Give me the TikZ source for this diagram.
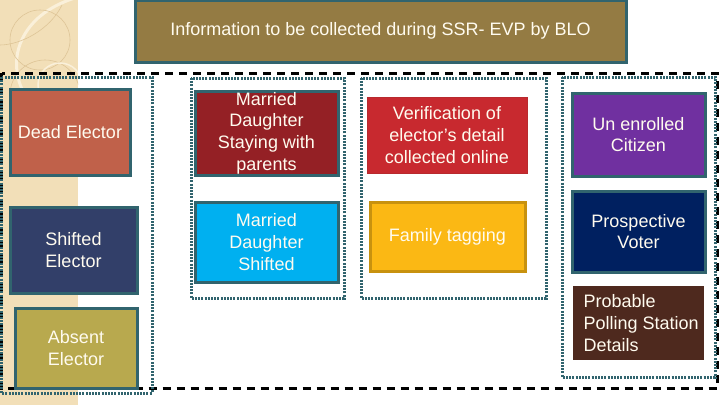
\documentclass[tikz,border=0pt]{standalone}
\usepackage{fontspec}
\setmainfont{Liberation Sans}
\definecolor{teal}{HTML}{31646E}
\definecolor{beige}{HTML}{F2DFB8}
\definecolor{beigeL}{HTML}{FAF0DA}
\definecolor{beigeD}{HTML}{DEC597}
\definecolor{titlefill}{HTML}{947B43}
\definecolor{cDead}{HTML}{C0614A}
\definecolor{cStay}{HTML}{942025}
\definecolor{cVer}{HTML}{C8292F}
\definecolor{cVerB}{HTML}{B82A2E}
\definecolor{cUn}{HTML}{7030A0}
\definecolor{cShift}{HTML}{323F69}
\definecolor{cMDS}{HTML}{00B0F0}
\definecolor{cFam}{HTML}{FBB814}
\definecolor{cFamB}{HTML}{C8920F}
\definecolor{cPros}{HTML}{002060}
\definecolor{cAbs}{HTML}{B8A94E}
\definecolor{cProb}{HTML}{4E291E}
\definecolor{txt}{HTML}{FFFBEF}
\tikzset{
  box/.style={draw=teal, line width=3pt, inner sep=0pt, align=center,
    text=txt, font=\fontsize{18}{21.6}\selectfont},
  grp/.style={draw=teal, line width=3pt, dash pattern=on 2pt off 1.2pt},
  outer/.style={draw=black, line width=3pt, dash pattern=on 8pt off 6pt},
}
\begin{document}
\begin{tikzpicture}[x=1pt,y=-1pt]
\useasboundingbox (0,0) rectangle (720,405);
\fill[white] (0,0) rectangle (720,405);
% beige decorative strip
\begin{scope}
\clip (0,0) rectangle (78,405);
\fill[beige] (0,0) rectangle (78,405);
\draw[beigeL, line width=3pt] (75,-2) .. controls (20,15) and (5,60) .. (25,95);
\draw[beigeD, line width=0.6pt] (0,45) .. controls (20,45) and (50,30) .. (62,5);
\draw[beigeD, line width=0.6pt] (40,40) circle (30);
\draw[beigeD, line width=0.6pt] (45,95) circle (35);
\draw[beigeL, line width=1.5pt] (60,85) circle (22);
\end{scope}
% title
\node[box, fill=titlefill, minimum width=491, minimum height=62] (title) at (380.5,31)
  {Information to be collected during SSR- EVP by BLO};
% outer dashed frame
\draw[outer] (1.5,73) rectangle (717,388);
% groups
\draw[grp] (1.5,77) rectangle (152,393);
\draw[grp] (191,78) rectangle (344,298);
\draw[grp] (361,78) rectangle (546,298);
\draw[grp] (562,77) rectangle (715,377);
% boxes
\node[box, fill=cDead, minimum width=120, minimum height=86] (dead) at (70,132) {Dead Elector};
\node[box, fill=cStay, minimum width=143, minimum height=84] (stay) at (266.5,133) {Married\\Daughter\\Staying with\\parents};
\node[box, draw=cVerB, line width=1pt, fill=cVer, minimum width=160, minimum height=76] (ver) at (447,135) {Verification of\\elector's detail\\collected online};
\node[box, fill=cUn, minimum width=133, minimum height=83] (un) at (638.5,134.5) {Un enrolled\\Citizen};
\node[box, fill=cShift, minimum width=127, minimum height=86] (shift) at (73.5,250) {Shifted\\Elector};
\node[box, fill=cMDS, minimum width=143, minimum height=80] (mds) at (266.5,242) {Married\\Daughter\\Shifted};
\node[box, draw=cFamB, fill=cFam, minimum width=155, minimum height=69] (fam) at (447.5,236.5) {Family tagging};
\node[box, fill=cPros, minimum width=133, minimum height=81] (pros) at (638.5,231.5) {Prospective\\Voter};
\node[box, fill=cAbs, minimum width=122, minimum height=80] (abs) at (76,348) {Absent\\Elector};
\node[box, draw=none, fill=cProb, minimum width=131, minimum height=74] (prob) at (638.5,323) {};
\node[box, draw=none, align=left, anchor=west] (probtext) at (582,323) {Probable\\Polling Station\\Details};
\end{tikzpicture}
\end{document}
